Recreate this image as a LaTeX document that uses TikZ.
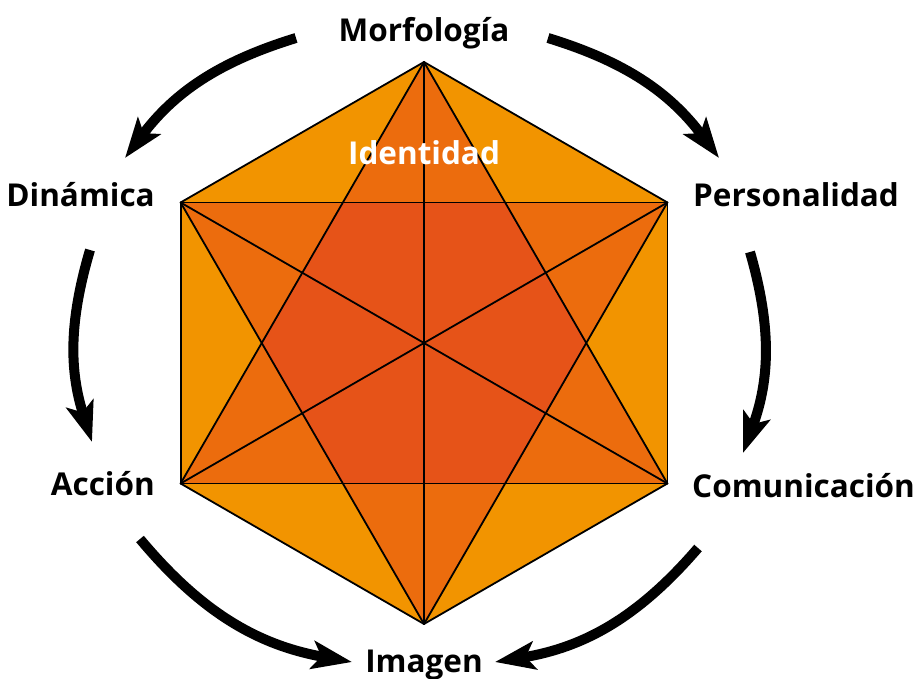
\documentclass[tikz,border=0pt]{standalone}
\usepackage{fontspec}
\setmainfont{Open Sans}
\usetikzlibrary{arrows.meta}
\definecolor{olight}{HTML}{F29400}
\definecolor{omid}{HTML}{EC6C0D}
\definecolor{odark}{HTML}{E65318}
\tikzset{
  lbl/.style={inner sep=0pt, font=\fontsize{31.5}{38}\selectfont\bfseries, text=black},
  cyc/.style={line width=10pt, -{Stealth[length=40pt,width=28pt,inset=9pt]}},
  edge/.style={line width=1.8pt, line join=round, line cap=round}
}
\begin{document}
\begin{tikzpicture}[x=1pt,y=1pt]
\useasboundingbox (0,0) rectangle (917,678);
% hexagon vertices
\coordinate (T) at (424,616);
\coordinate (B) at (424,54);
\coordinate (UR) at (667.4,475.5);
\coordinate (UL) at (180.6,475.5);
\coordinate (LR) at (667.4,194.5);
\coordinate (LL) at (180.6,194.5);
\coordinate (C) at (424,335);
% inner hexagon
\coordinate (I1) at (342.9,475.5);
\coordinate (I2) at (505.1,475.5);
\coordinate (I3) at (586.3,335);
\coordinate (I4) at (505.1,194.5);
\coordinate (I5) at (342.9,194.5);
\coordinate (I6) at (261.7,335);
% fills
\fill[olight] (T) -- (UR) -- (LR) -- (B) -- (LL) -- (UL) -- cycle;
\fill[omid] (T) -- (LR) -- (LL) -- cycle;
\fill[omid] (B) -- (UR) -- (UL) -- cycle;
\fill[odark] (I1) -- (I2) -- (I3) -- (I4) -- (I5) -- (I6) -- cycle;
% all chords
\foreach \a/\b in {T/UR,T/LR,T/B,T/LL,T/UL,UR/LR,UR/B,UR/LL,UR/UL,LR/B,LR/LL,LR/UL,B/LL,B/UL,LL/UL}
  \draw[edge] (\a) -- (\b);
% labels
\node[lbl, anchor=base] (mor) at (424,636) {Morfología};
\node[lbl, anchor=base east] (din) at (155,471) {Dinámica};
\node[lbl, anchor=base west] (per) at (693,471) {Personalidad};
\node[lbl, anchor=base west] (com) at (692,181) {Comunicación};
\node[lbl, anchor=base east] (acc) at (155,183) {Acción};
\node[lbl, anchor=base] (ima) at (424,6) {Imagen};
\node[lbl, anchor=base, text=white] (ide) at (424,513) {Identidad};
% arrow ends
\coordinate (a1s) at (548,640); \coordinate (a1e) at (719,520);
\coordinate (a2s) at (750,426); \coordinate (a2e) at (743,225);
\coordinate (a3s) at (698,130); \coordinate (a3e) at (495,16);
\coordinate (a4s) at (296,640); \coordinate (a4e) at (125,520);
\coordinate (a5s) at (90,428);  \coordinate (a5e) at (92,236);
\coordinate (a6s) at (140,139); \coordinate (a6e) at (352,16);
\draw[cyc] (a1s) to[bend left=18] (a1e);
\draw[cyc] (a2s) to[bend left=18] (a2e);
\draw[cyc] (a3s) to[bend left=20] (a3e);
\draw[cyc] (a4s) to[bend right=18] (a4e);
\draw[cyc] (a5s) to[bend right=17] (a5e);
\draw[cyc] (a6s) to[bend right=20] (a6e);
\end{tikzpicture}
\end{document}
